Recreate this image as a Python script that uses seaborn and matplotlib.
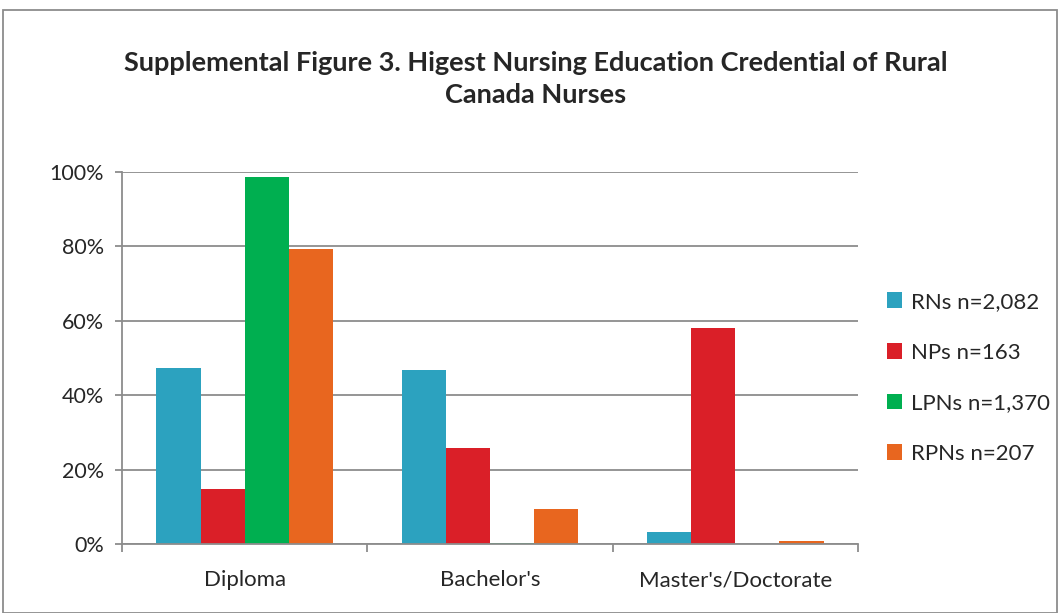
import pandas as pd
import seaborn as sns
import matplotlib.pyplot as plt
from matplotlib.patches import Rectangle
from matplotlib.ticker import FuncFormatter

categories = ["Diploma", "Bachelor's", "Master's/Doctorate"]
groups = ["RNs n=2,082", "NPs n=163", "LPNs n=1,370", "RPNs n=207"]
rn_values = [47.3, 46.8, 3.3]
np_values = [14.7, 25.7, 58.0]
lpn_values = [98.7, 0.4, 0.0]
rpn_values = [79.2, 9.4, 0.8]
colors = ["#2CA2BF", "#DA1F28", "#00AF50", "#E8661F"]

rows = []
for grp, vals in zip(groups, [rn_values, np_values, lpn_values, rpn_values]):
    for cat, v in zip(categories, vals):
        rows.append({"credential": cat, "group": grp, "pct": v})
df = pd.DataFrame(rows)

sns.set_style("white")
plt.rcParams["font.family"] = ["Lato", "DejaVu Sans"]

fig = plt.figure(figsize=(10.61, 6.13), dpi=100)
ax = fig.add_axes([122 / 1061, 1 - 544 / 613, (858 - 122) / 1061, (544 - 172) / 613])

sns.barplot(data=df, x="credential", y="pct", hue="group", palette=colors,
            width=0.72, ax=ax, saturation=1, linewidth=0)

ax.set_ylim(0, 100)
ax.set_xlim(-0.5, 2.5)
ax.set_yticks(range(0, 101, 20))
ax.yaxis.set_major_formatter(FuncFormatter(lambda v, p: f"{int(v)}%"))
ax.grid(axis="y", color="#8C8C8C", linewidth=1.3)
ax.set_axisbelow(True)
ax.set_xlabel("")
ax.set_ylabel("")
for s in ["top", "right"]:
    ax.spines[s].set_visible(False)
for s in ["left", "bottom"]:
    ax.spines[s].set_color("#8C8C8C")
    ax.spines[s].set_linewidth(1.3)

ax.set_xticks([-0.5, 0.5, 1.5, 2.5])
ax.set_xticklabels([])
ax.set_xticks([0, 1, 2], minor=True)
ax.set_xticklabels(categories, minor=True)
ax.tick_params(axis="x", which="major", length=6, width=1.3, color="#8C8C8C", direction="out", bottom=True)
ax.tick_params(axis="x", which="minor", length=0, labelsize=16, pad=19)
ax.tick_params(axis="y", length=5, width=1.3, color="#8C8C8C", direction="out", left=True, labelsize=15.5, pad=8)

handles, labels = ax.get_legend_handles_labels()
ax.legend_.remove()
fig.legend(handles, labels, loc="upper left", bbox_to_anchor=(878 / 1061, 1 - 283 / 613),
           frameon=False, fontsize=16, handlelength=0.7, handleheight=0.7,
           handletextpad=0.4, labelspacing=1.38, borderaxespad=0)

fig.text(0.505, 1 - 79 / 613, "Supplemental Figure 3. Higest Nursing Education Credential of Rural\nCanada Nurses",
         ha="center", va="center", fontsize=19.5, fontweight="bold", linespacing=1.38)

fig.patches.append(Rectangle((3 / 1061, 0), 1054 / 1061, 1 - 10 / 613, transform=fig.transFigure,
                             fill=False, edgecolor="#8C8C8C", linewidth=1.3))

fig.savefig("out.png", dpi=100)
